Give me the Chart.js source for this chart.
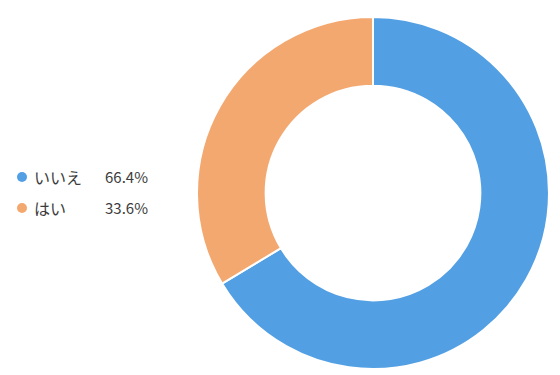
<!DOCTYPE html>
<html><head><meta charset="utf-8">
<script src="https://cdn.jsdelivr.net/npm/chart.js@4"></script>
<style>
html,body{margin:0;padding:0;background:#fff;width:560px;height:375px;overflow:hidden;}
#wrap{position:absolute;left:196px;top:16px;width:354px;height:354px;}
#legend{position:absolute;left:14px;top:161px;font-family:"Noto Sans CJK JP","Noto Sans",sans-serif;font-size:15px;color:#3c3c3c;}
.row{display:flex;align-items:center;height:31px;}
.dot{width:10px;height:10px;border-radius:50%;margin-right:7px;margin-left:3px;}
.lab{width:71px;font-size:16px;}
</style></head><body>
<div id="legend"></div>
<div id="wrap"><canvas id="c"></canvas></div>
<script>
const categories = ["いいえ", "はい"];
const values = [66.4, 33.6];
const colors = ["#529FE3", "#F3A870"];

const lg = document.getElementById('legend');
categories.forEach((c,i)=>{
  const r=document.createElement('div');r.className='row';
  r.innerHTML='<div class="dot" style="background:'+colors[i]+'"></div><div class="lab">'+c+'</div><div>'+values[i].toFixed(1)+'%</div>';
  lg.appendChild(r);
});

new Chart(document.getElementById('c'), {
  type: 'doughnut',
  data: { labels: categories, datasets: [{ data: values, backgroundColor: colors, borderColor: '#fff', borderWidth: 2, hoverOffset: 0 }] },
  options: {
    responsive: true, maintainAspectRatio: false, animation: false,
    cutout: '61%',
    layout: { padding: 0 },
    plugins: { legend: { display: false }, tooltip: { enabled: false } }
  }
});
</script>
</body></html>
